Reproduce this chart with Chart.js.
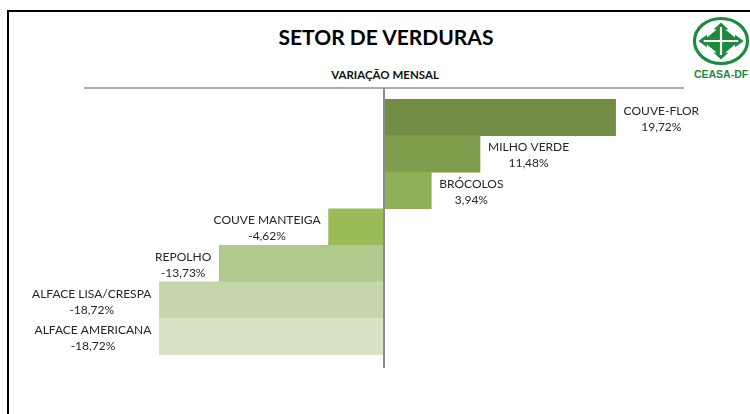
<!DOCTYPE html>
<html><head><meta charset="utf-8">
<script src="https://cdn.jsdelivr.net/npm/chart.js@4/dist/chart.umd.min.js"></script>
<style>
html,body{margin:0;padding:0;background:#fff;}
#wrap{position:relative;width:750px;height:414px;overflow:hidden;}
#frame{position:absolute;left:7px;top:10px;width:760px;height:420px;border-top:2px solid #000;border-left:2px solid #000;box-sizing:border-box;}
#title{position:absolute;left:0;width:772px;top:24px;text-align:center;font:bold 21px Lato, sans-serif;color:#000;}
#sub{position:absolute;left:0;width:770px;top:68px;text-align:center;font:bold 11.5px Lato, sans-serif;color:#111;}
#logo{position:absolute;left:690px;top:15px;}
#logotext{position:absolute;left:690px;top:68px;width:62px;text-align:center;font:bold 10.5px "Liberation Sans",Arial,sans-serif;color:#1e8a3e;}
canvas{position:absolute;left:0;top:0;}
</style></head>
<body><div id="wrap">
<div id="frame"></div>
<div id="title">SETOR DE VERDURAS</div>
<div id="sub">VARIAÇÃO MENSAL</div>
<svg id="logo" width="62" height="52" viewBox="-31 -26 62 52">
<ellipse cx="0" cy="0" rx="26.5" ry="22.5" fill="none" stroke="#1e8a3e" stroke-width="3.2"/>
<g transform="scale(1.08,0.88)">
<polygon fill="#1e8a3e" points="0,-21 7,-13 4,-13 13,-4 13,-7 21,0 13,7 13,4 4,13 7,13 0,21 -7,13 -4,13 -13,4 -13,7 -21,0 -13,-7 -13,-4 -4,-13 -7,-13"/>
<line x1="0" y1="-16" x2="0" y2="16" stroke="#fff" stroke-width="2"/>
<line x1="-16" y1="0" x2="16" y2="0" stroke="#fff" stroke-width="2"/>
</g>
</svg>
<div id="logotext">CEASA-DF</div>
<canvas id="c" width="750" height="414"></canvas>
</div>
<script>
const categories = ["COUVE-FLOR","MILHO VERDE","BRÓCOLOS","COUVE MANTEIGA","REPOLHO","ALFACE LISA/CRESPA","ALFACE AMERICANA"];
const values = [19.3, 8.0, 3.94, -4.62, -13.73, -18.72, -18.72];
const valueLabels = ["19,72%","11,48%","3,94%","-4,62%","-13,73%","-18,72%","-18,72%"];
const barColors = ["#738C43","#7E9C4B","#8EAF55","#9BBB59","#B1C98D","#C6D6AC","#D8E3C6"];

const decor = {
  id:'decor',
  afterDatasetsDraw(chart){
    const ctx = chart.ctx, ca = chart.chartArea;
    const x0 = chart.scales.x.getPixelForValue(0);
    ctx.save();
    ctx.strokeStyle = '#8c8c8c'; ctx.lineWidth = 1.5;
    ctx.beginPath(); ctx.moveTo(ca.left, ca.top - 11); ctx.lineTo(ca.right, ca.top - 11); ctx.stroke();
    ctx.strokeStyle = '#8c8c8c'; ctx.lineWidth = 2;
    ctx.beginPath(); ctx.moveTo(x0, ca.top - 11); ctx.lineTo(x0, ca.bottom + 13); ctx.stroke();
    ctx.fillStyle = '#262626';
    ctx.font = '12px Lato, sans-serif';
    ctx.textAlign = 'center'; ctx.textBaseline = 'middle';
    const meta = chart.getDatasetMeta(0);
    meta.data.forEach((bar, i) => {
      const l1 = categories[i], l2 = valueLabels[i];
      const w = Math.max(ctx.measureText(l1).width, ctx.measureText(l2).width);
      const gap = 8;
      const cx = values[i] >= 0 ? bar.x + gap + w/2 : bar.x - gap - w/2;
      ctx.fillText(l1, cx, bar.y - 6.5);
      ctx.fillText(l2, cx, bar.y + 9.5);
    });
    ctx.restore();
  }
};

new Chart(document.getElementById('c'), {
  type: 'bar',
  data: { labels: categories, datasets: [{ data: values, backgroundColor: barColors, borderWidth: 0, barPercentage: 1, categoryPercentage: 1 }] },
  options: {
    indexAxis: 'y', responsive: false, animation: false, devicePixelRatio: 1,
    layout: { padding: { left: 84, right: 66, top: 99, bottom: 59 } },
    scales: {
      x: { display: false, min: -25, max: 25 },
      y: { display: false }
    },
    plugins: { legend: { display: false }, tooltip: { enabled: false }, title: { display: false } }
  },
  plugins: [decor]
});
</script>
</body></html>
